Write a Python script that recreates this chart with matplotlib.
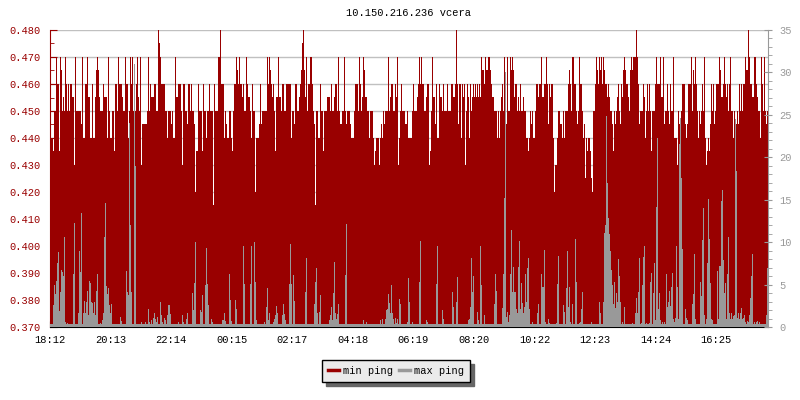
import numpy as np
import matplotlib
matplotlib.use("Agg")
import matplotlib.pyplot as plt
from matplotlib.lines import Line2D
from matplotlib.ticker import MultipleLocator

title = "10.150.216.236 vcera"
series_labels = ["min ping", "max ping"]
time_labels = ["18:12", "20:13", "22:14", "00:15", "02:17", "04:18",
               "06:19", "08:20", "10:22", "12:23", "14:24", "16:25"]
left_ticks = [0.370, 0.380, 0.390, 0.400, 0.410, 0.420, 0.430, 0.440,
              0.450, 0.460, 0.470, 0.480]
right_ticks = [0, 5, 10, 15, 20, 25, 30, 35]

# min ping (left axis), one sample per ~2 minutes
min_ping = [
    .44, .44, .44, .435, .45, .45, .47, .46, .46, .435, .47, .465, .45, .455, .45, .47, .46, .45, .46, .45,
    .46, .46, .455, .455, .43, .47, .45, .45, .45, .45, .45, .445, .47, .44, .44, .46, .46, .47, .455, .455,
    .44, .44, .46, .44, .44, .455, .465, .47, .465, .455, .45, .45, .45, .46, .455, .455, .455, .44, .47, .45,
    .44, .44, .45, .45, .435, .46, .46, .45, .47, .46, .46, .46, .455, .45, .45, .47, .46, .46, .44, .45,
    .47, .46, .47, .45, .44, .45, .46, .47, .455, .45, .47, .43, .445, .445, .445, .445, .445, .45, .47, .45,
    .46, .455, .455, .455, .46, .46, .45, .45, .48, .475, .47, .46, .46, .46, .46, .45, .45, .44, .45, .45,
    .45, .445, .45, .44, .44, .47, .455, .455, .46, .46, .46, .45, .43, .46, .46, .45, .45, .445, .46, .46,
    .45, .46, .45, .45, .445, .42, .435, .435, .46, .45, .45, .45, .435, .46, .45, .45, .44, .45, .45, .46,
    .45, .45, .45, .415, .46, .45, .45, .45, .47, .47, .48, .46, .46, .46, .44, .45, .445, .44, .44, .45,
    .45, .44, .435, .45, .46, .46, .47, .465, .46, .47, .46, .46, .455, .46, .45, .45, .47, .46, .455, .455,
    .45, .44, .46, .45, .45, .42, .44, .44, .44, .445, .46, .445, .45, .45, .45, .45, .45, .47, .46, .47,
    .465, .46, .455, .46, .45, .435, .455, .455, .47, .455, .455, .45, .46, .46, .45, .45, .46, .46, .46, .46,
    .46, .44, .45, .45, .445, .46, .46, .45, .45, .455, .46, .465, .475, .48, .465, .455, .47, .45, .46, .46,
    .47, .47, .46, .45, .445, .415, .45, .45, .44, .44, .46, .45, .45, .435, .45, .45, .45, .455, .455, .455,
    .45, .46, .45, .45, .455, .46, .46, .45, .47, .45, .445, .445, .45, .45, .47, .45, .445, .45, .45, .45,
    .445, .44, .44, .44, .45, .46, .46, .46, .45, .47, .46, .45, .455, .47, .465, .455, .455, .45, .45, .44,
    .45, .45, .45, .44, .43, .435, .44, .44, .44, .43, .44, .445, .44, .45, .445, .45, .45, .45, .47, .45,
    .455, .46, .46, .45, .45, .46, .455, .47, .43, .44, .45, .46, .45, .45, .45, .445, .445, .45, .44, .44,
    .44, .44, .45, .46, .45, .45, .45, .455, .46, .47, .46, .47, .46, .46, .45, .45, .455, .46, .46, .43,
    .435, .45, .47, .455, .455, .445, .46, .44, .44, .46, .455, .455, .45, .46, .45, .45, .45, .46, .45, .45,
    .45, .46, .46, .455, .455, .46, .48, .46, .445, .46, .46, .44, .46, .455, .46, .43, .45, .46, .455, .44,
    .46, .45, .455, .46, .455, .46, .455, .46, .455, .46, .455, .47, .465, .465, .46, .47, .465, .465, .47, .47,
    .465, .46, .455, .455, .45, .45, .45, .44, .45, .44, .45, .455, .46, .45, .47, .45, .445, .47, .45, .45,
    .47, .465, .47, .465, .455, .46, .46, .45, .455, .45, .46, .45, .45, .455, .45, .45, .44, .44, .435, .44,
    .45, .445, .45, .44, .44, .45, .46, .46, .455, .46, .46, .47, .455, .455, .46, .46, .47, .46, .445, .46,
    .455, .46, .46, .44, .42, .43, .43, .44, .45, .45, .445, .445, .44, .45, .44, .45, .45, .45, .46, .465,
    .46, .45, .47, .47, .46, .46, .45, .445, .45, .47, .46, .46, .45, .44, .445, .425, .44, .435, .44, .44,
    .435, .425, .42, .45, .45, .46, .47, .465, .46, .47, .465, .47, .46, .47, .465, .46, .46, .455, .46, .455,
    .45, .45, .445, .435, .45, .445, .45, .455, .46, .45, .445, .46, .455, .465, .47, .465, .46, .46, .455, .45,
    .465, .47, .465, .47, .47, .47, .48, .47, .46, .445, .45, .45, .45, .46, .455, .44, .45, .46, .45, .46,
    .45, .435, .45, .45, .45, .46, .47, .46, .46, .46, .47, .455, .455, .47, .445, .45, .45, .46, .45, .445,
    .46, .45, .45, .47, .44, .44, .44, .43, .45, .445, .44, .45, .46, .46, .46, .445, .44, .445, .46, .46,
    .46, .47, .45, .465, .46, .47, .46, .45, .44, .45, .445, .45, .46, .45, .47, .44, .43, .435, .44, .435,
    .445, .46, .45, .46, .445, .45, .46, .46, .46, .47, .465, .455, .455, .46, .47, .46, .455, .46, .45, .46,
    .47, .45, .45, .44, .45, .44, .445, .45, .445, .46, .45, .46, .45, .46, .46, .47, .465, .465, .48, .47,
    .46, .46, .455, .455, .47, .47, .46, .455, .45, .45, .44, .47, .46, .45, .47, .45, .445, .45,
]

# max ping (right axis)
max_ping = [
    0.4, 0.4, 0.4, 2.6, 5.0, 3.9, 5.4, 7.6, 8.8, 1.9, 4.1, 6.7, 6.5, 6.0, 10.6, 0.6, 0.4, 0.5, 0.4, 0.3,
    0.4, 0.3, 0.3, 6.3, 12.2, 0.4, 0.4, 0.3, 1.6, 8.9, 6.5, 13.4, 0.4, 1.6, 3.1, 1.6, 2.9, 4.2, 1.4, 5.4,
    5.2, 3.0, 2.8, 1.6, 2.9, 1.4, 4.2, 6.2, 0.4, 0.3, 0.5, 0.4, 0.8, 1.6, 10.6, 14.6, 4.8, 3.9, 4.6, 2.6,
    1.6, 2.7, 0.3, 0.4, 0.3, 0.4, 0.3, 0.4, 0.3, 0.4, 1.2, 0.7, 0.4, 0.4, 0.3, 0.4, 6.6, 4.1, 3.8, 24.0,
    12.0, 4.1, 0.3, 0.4, 31.0, 19.0, 0.4, 0.3, 0.4, 0.4, 0.3, 0.6, 0.4, 0.3, 0.4, 0.6, 0.4, 0.3, 2.1, 0.6,
    0.4, 0.8, 0.4, 1.1, 1.6, 1.0, 0.6, 1.2, 0.4, 0.4, 2.9, 1.4, 0.6, 0.4, 1.1, 0.8, 0.4, 1.4, 2.6, 2.6,
    1.5, 0.4, 0.3, 0.4, 0.3, 0.4, 0.3, 0.4, 0.6, 0.4, 0.4, 0.3, 1.4, 0.6, 0.4, 0.4, 1.0, 1.6, 0.4, 0.3,
    0.4, 0.4, 4.0, 2.0, 5.2, 10.0, 0.4, 0.3, 0.4, 0.4, 2.0, 1.8, 3.8, 0.4, 0.4, 4.9, 9.3, 5.1, 2.6, 0.4,
    0.3, 1.0, 0.6, 0.4, 0.4, 0.3, 0.4, 0.4, 0.3, 0.4, 0.4, 0.3, 0.8, 0.8, 1.7, 0.7, 0.4, 0.4, 0.3, 6.2,
    3.2, 0.7, 0.4, 0.3, 0.4, 3.2, 2.1, 0.4, 0.4, 0.3, 0.4, 0.4, 0.3, 9.5, 5.1, 0.4, 0.3, 0.4, 0.4, 0.3,
    5.1, 9.5, 0.4, 0.3, 10.0, 5.3, 0.8, 0.4, 0.3, 0.4, 0.4, 0.3, 0.4, 0.4, 0.6, 0.3, 2.4, 4.6, 0.8, 1.6,
    0.4, 0.3, 0.4, 0.6, 0.9, 1.4, 2.5, 1.6, 0.4, 0.3, 0.4, 0.4, 1.4, 2.7, 1.5, 0.8, 0.4, 0.3, 0.4, 5.1,
    9.8, 5.1, 0.4, 6.1, 3.1, 0.4, 0.3, 0.4, 0.4, 0.3, 0.4, 0.4, 0.3, 0.4, 0.4, 4.1, 8.1, 0.4, 0.3, 0.4,
    0.4, 0.3, 0.4, 0.4, 2.7, 5.3, 7.0, 1.6, 0.4, 1.8, 3.8, 0.4, 0.3, 0.4, 0.4, 0.3, 0.4, 0.4, 0.3, 0.8,
    1.4, 2.4, 0.8, 4.0, 7.7, 1.6, 1.0, 1.5, 2.7, 0.4, 0.3, 0.4, 0.4, 0.3, 0.4, 6.1, 12.1, 0.4, 0.3, 0.4,
    0.4, 0.3, 0.4, 0.4, 0.3, 0.4, 0.4, 0.3, 0.4, 0.4, 0.3, 0.4, 0.4, 0.8, 0.4, 0.4, 0.6, 0.4, 0.3, 0.4,
    0.4, 0.3, 0.4, 0.4, 0.3, 0.4, 0.4, 0.3, 0.4, 0.4, 0.8, 0.4, 1.0, 0.4, 0.4, 1.0, 2.0, 2.1, 3.9, 2.8,
    1.6, 5.0, 1.6, 0.9, 0.4, 1.1, 0.5, 0.9, 0.4, 3.3, 2.7, 0.4, 0.4, 0.3, 0.4, 0.4, 0.3, 0.6, 5.8, 3.0,
    0.4, 0.3, 0.6, 0.4, 0.3, 0.4, 0.4, 0.3, 0.4, 5.3, 10.1, 0.4, 0.3, 0.4, 0.4, 0.3, 0.8, 0.6, 0.4, 0.3,
    0.4, 0.4, 0.3, 0.4, 0.4, 0.3, 5.1, 9.5, 0.4, 0.3, 0.4, 0.4, 2.0, 1.0, 0.4, 0.3, 0.4, 0.4, 0.3, 0.4,
    0.4, 0.3, 4.1, 2.4, 0.4, 0.3, 3.0, 5.9, 0.4, 0.3, 0.4, 0.4, 0.3, 0.4, 0.4, 0.3, 0.4, 0.4, 0.8, 1.0,
    2.3, 8.1, 4.1, 6.0, 0.4, 0.3, 0.4, 1.8, 0.8, 0.4, 9.6, 5.0, 0.4, 0.3, 1.4, 0.4, 0.3, 0.4, 0.4, 0.3,
    0.4, 0.4, 0.4, 0.4, 2.7, 6.3, 4.2, 0.4, 0.3, 0.4, 0.4, 0.3, 2.2, 6.3, 15.2, 30.1, 1.2, 1.8, 0.6, 1.4,
    6.2, 11.4, 4.1, 7.1, 4.1, 4.1, 2.1, 1.6, 7.1, 10.1, 2.1, 5.2, 2.8, 1.6, 2.3, 6.3, 3.0, 7.0, 8.1, 2.1,
    0.4, 0.3, 0.6, 0.4, 0.3, 0.4, 0.4, 1.7, 2.7, 0.4, 0.3, 6.3, 4.7, 4.7, 9.1, 0.6, 0.4, 0.4, 0.9, 0.5,
    0.4, 0.3, 0.4, 0.4, 0.3, 0.4, 0.5, 5.1, 8.4, 0.4, 0.3, 0.4, 0.4, 2.6, 1.8, 0.4, 4.6, 9.0, 2.4, 4.7,
    0.6, 0.4, 2.7, 0.4, 0.3, 10.4, 5.3, 0.4, 0.3, 0.5, 0.6, 2.1, 4.1, 0.4, 0.3, 0.4, 0.4, 0.3, 0.4, 0.4,
    0.3, 0.6, 0.4, 0.4, 0.3, 0.4, 0.4, 0.3, 0.3, 3.0, 1.6, 0.4, 0.3, 3.0, 11.1, 12.0, 24.9, 17.0, 12.9, 11.0,
    9.0, 6.7, 5.0, 2.7, 5.3, 2.2, 4.0, 2.9, 8.0, 6.0, 3.0, 0.4, 0.6, 0.4, 2.3, 0.4, 0.4, 0.3, 0.4, 0.4,
    0.3, 0.4, 0.5, 0.4, 0.4, 1.7, 3.4, 1.7, 4.1, 8.1, 0.4, 0.5, 5.0, 8.3, 9.5, 0.4, 0.5, 0.4, 0.4, 0.5,
    5.3, 6.4, 0.4, 4.0, 7.6, 0.8, 14.1, 22.3, 2.1, 4.0, 0.8, 0.4, 0.6, 0.4, 0.6, 0.4, 6.2, 2.3, 3.0, 4.2,
    2.5, 4.7, 6.4, 1.0, 0.6, 1.1, 9.5, 4.7, 1.0, 21.6, 24.6, 17.6, 9.2, 0.4, 0.4, 2.1, 1.1, 0.8, 0.4, 0.4,
    0.3, 0.4, 2.7, 3.9, 8.6, 1.0, 0.4, 0.4, 0.3, 0.4, 5.3, 3.6, 10.3, 14.0, 1.4, 0.4, 1.0, 7.6, 15.1, 10.4,
    5.2, 1.0, 0.8, 0.4, 0.4, 0.3, 0.4, 6.6, 1.0, 7.2, 7.2, 14.9, 16.2, 7.9, 4.0, 5.2, 1.0, 6.2, 10.6, 1.6,
    1.0, 1.6, 1.0, 1.3, 1.4, 24.5, 18.4, 1.1, 1.6, 0.9, 1.6, 2.2, 1.0, 1.1, 1.4, 0.6, 0.4, 0.7, 0.6, 1.4,
    3.4, 6.0, 8.6, 0.4, 0.6, 0.4, 0.6, 0.7, 0.4, 0.6, 0.4, 0.4, 0.3, 0.4, 0.4, 0.3, 1.4, 7.0,
]

RED = "#990000"
GRAY = "#999999"
plt.rcParams["font.family"] = ["Liberation Mono", "DejaVu Sans Mono"]

n_slots = 718

fig = plt.figure(figsize=(8, 4), dpi=100)
ax = fig.add_axes([50 / 800, 1 - 327 / 400, 718 / 800, 297 / 400])
ax2 = ax.twinx()

# min ping: columns rising from the axis floor
y1 = np.asarray(min_ping, dtype=float)
ax.bar(np.arange(len(y1)), y1 - 0.370, bottom=0.370, width=1.0, align="edge",
       color=RED, linewidth=0, antialiased=False, zorder=2)

# max ping on the right axis, drawn on top
y2 = np.asarray(max_ping, dtype=float)
ax2.bar(np.arange(len(y2)), y2, width=1.0, align="edge",
        color=GRAY, linewidth=0, antialiased=False, zorder=2)

ax.set_xlim(0, n_slots)
ax2.set_xlim(0, n_slots)
ax.set_ylim(0.370, 0.480)
ax2.set_ylim(0, 35)

ax.set_yticks(left_ticks)
ax.set_yticklabels([f"{v:.3f}" for v in left_ticks])
ax.yaxis.set_minor_locator(MultipleLocator(0.005))
ax2.set_yticks(right_ticks)
ax2.set_yticklabels([str(v) for v in right_ticks])
ax2.yaxis.set_minor_locator(MultipleLocator(1))

tick_pos = [i * 60.55 for i in range(len(time_labels))]
ax.set_xticks(tick_pos)
ax.set_xticklabels(time_labels)

ax.grid(axis="y", which="major", color="#c0c0c0", linewidth=1, zorder=0)
ax.set_axisbelow(True)

for a in (ax, ax2):
    a.spines["top"].set_visible(False)
ax.spines["right"].set_visible(False)
ax.spines["left"].set_color(RED)
ax.spines["bottom"].set_color("black")
ax2.spines["left"].set_visible(False)
ax2.spines["bottom"].set_visible(False)
ax2.spines["right"].set_color(GRAY)

ax.tick_params(axis="y", which="major", direction="in", length=5, color=RED,
               labelcolor=RED, labelsize=7.5, pad=7)
ax.tick_params(axis="y", which="minor", direction="in", length=3, color=RED)
ax.tick_params(axis="x", which="major", direction="in", length=4, color="black",
               labelcolor="black", labelsize=7.5, pad=6)
ax2.tick_params(axis="y", which="major", direction="inout", length=6, color=GRAY,
                labelcolor=GRAY, labelsize=7.5, pad=5)
ax2.tick_params(axis="y", which="minor", direction="out", length=3, color=GRAY)

fig.text(409 / 800, 1 - 13 / 400, title, ha="center", va="center",
         fontsize=7.5, color="black")

handles = [Line2D([], [], color=RED, lw=2.5), Line2D([], [], color=GRAY, lw=2.5)]
leg = fig.legend(handles, series_labels, loc="center left",
                 bbox_to_anchor=(322 / 800, 1 - 371 / 400), ncol=2,
                 frameon=True, fancybox=False,
                 shadow={"ox": 3, "oy": -3, "color": "#666666", "alpha": 1},
                 edgecolor="black", facecolor="#ebebeb", framealpha=1,
                 fontsize=7.5, handlelength=1.0, handletextpad=0.4,
                 columnspacing=0.6, borderpad=0.6, borderaxespad=0)
leg.get_frame().set_linewidth(1)

fig.savefig("out.png", dpi=100)
